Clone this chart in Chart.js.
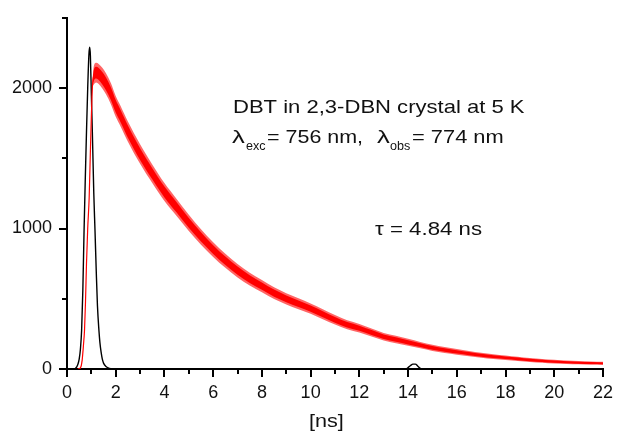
<!DOCTYPE html>
<html>
<head>
<meta charset="utf-8">
<script src="https://cdn.jsdelivr.net/npm/chart.js@4/dist/chart.umd.min.js"></script>
<style>
  html, body { margin: 0; padding: 0; background: #fff; }
  #c { display: block; }
</style>
</head>
<body>
<canvas id="c" width="618" height="432"></canvas>
<script>
// ---- data ----
const xTickLabels = ['0','2','4','6','8','10','12','14','16','18','20','22'];
const yTickLabels = ['0','1000','2000'];

// fluorescence decay (red), time in ns
const redTime = [0.45,0.55,0.62,0.68,0.72,0.76,0.80,0.85,0.91,0.96,1.00,1.04,1.10,1.20,1.30,1.45,1.6,1.8,2.0,2.2,
  2.5,3.0,3.5,4.0,4.5,5.0,5.5,6.0,6.5,7.0,7.5,8.0,8.5,9.0,9.5,10,10.5,11,11.5,12,
  12.5,13,13.5,14,14.5,15,15.5,16,16.5,17,17.5,18,18.5,19,19.5,20,20.5,21,21.5,22];
const redCounts = [0,8,60,180,280,480,750,1000,1220,1550,1800,2000,2090,2110,2100,2070,2030,1960,1870,1800,
  1690,1530,1390,1260,1150,1040,940,850,770,700,640,590,540,500,465,430,390,350,315,290,
  260,230,210,190,170,150,135,122,110,98,88,80,72,64,58,52,48,45,42,40];
// visible half-width of the noisy band (counts)
const redNoise = [0,2,3,3,3,3,3,3,3,3,3,15,65,70,72,74,75,75,74,73,
  72,69,66,64,61,58,55,52,50,48,46,44,42,40,39,37,36,34,32,31,
  29,27,26,25,23,22,21,20,19,18,17,16,15,14,14,13,12,12,12,11];

// instrument response (black)
const irfTime = [0,0.3,0.35,0.4,0.45,0.5,0.55,0.6,0.65,0.7,0.75,0.8,0.85,0.9,0.93,0.96,1.0,1.04,1.1,1.15,
  1.2,1.25,1.31,1.35,1.4,1.45,1.5,1.6,1.7,1.8,1.9,13.9,14.0,14.1,14.2,14.3,14.4,14.5,14.6,22];
const irfCounts = [0,0,5,15,35,70,140,276,560,982,1350,1689,2000,2240,2290,2230,1950,1689,1250,982,
  700,450,276,190,120,70,42,18,7,2,0,0,10,25,35,35,20,5,0,0];

const pts = (xs, ys) => xs.map((x, i) => ({ x: x, y: ys[i] }));
const band = (k) => redTime.map((x, i) => ({ x: x, y: redCounts[i] + k * redNoise[i] }));

const FONT = "'Liberation Sans', Arial, sans-serif";
const TXT = '#111';

function wideText(ctx, text, x, y, sx) {
  ctx.save();
  ctx.translate(x, y);
  ctx.scale(sx, 1);
  ctx.fillText(text, 0, 0);
  ctx.restore();
}

const minorTicks = {
  id: 'minorTicks',
  afterDraw(chart) {
    const ctx = chart.ctx, xs = chart.scales.x, ys = chart.scales.y;
    const a = chart.chartArea;
    ctx.save();
    ctx.strokeStyle = '#000';
    ctx.lineWidth = 2;
    for (let v = 1; v <= 21; v += 2) {
      const p = Math.round(xs.getPixelForValue(v));
      ctx.beginPath(); ctx.moveTo(p, a.bottom); ctx.lineTo(p, a.bottom + 5); ctx.stroke();
    }
    [500, 1500, 2500].forEach(v => {
      const p = Math.round(ys.getPixelForValue(v));
      ctx.beginPath(); ctx.moveTo(a.left - 5, p); ctx.lineTo(a.left, p); ctx.stroke();
    });
    // annotations
    ctx.fillStyle = TXT;
    ctx.textBaseline = 'alphabetic';
    ctx.textAlign = 'left';
    ctx.font = '19px ' + FONT;
    wideText(ctx, 'DBT in 2,3-DBN crystal at 5 K', 233, 113, 1.16);
    wideText(ctx, '\u03bb', 232, 143, 1.35);
    wideText(ctx, '= 756 nm,', 267, 143, 1.13);
    wideText(ctx, '\u03bb', 377, 143, 1.35);
    wideText(ctx, '= 774 nm', 412, 143, 1.15);
    wideText(ctx, '\u03c4 = 4.84 ns', 375, 235, 1.17);
    ctx.font = '12px ' + FONT;
    wideText(ctx, 'exc', 246, 150, 1.05);
    wideText(ctx, 'obs', 390, 150, 1.05);
    ctx.font = '18px ' + FONT;
    wideText(ctx, '[ns]', 309, 427, 1.2);
    ctx.restore();
  }
};

new Chart(document.getElementById('c'), {
  type: 'line',
  data: {
    datasets: [
      { data: band(1), borderWidth: 0, pointRadius: 0, fill: '+1', backgroundColor: 'rgba(255,0,0,0.6)', cubicInterpolationMode: 'monotone' },
      { data: band(-1), borderWidth: 0, pointRadius: 0, fill: false, cubicInterpolationMode: 'monotone' },
      { data: band(0.6), borderWidth: 0, pointRadius: 0, fill: '+1', backgroundColor: '#ff0000', cubicInterpolationMode: 'monotone' },
      { data: band(-0.6), borderWidth: 0, pointRadius: 0, fill: false, cubicInterpolationMode: 'monotone' },
      { data: pts(redTime, redCounts), borderColor: '#ff0000', borderWidth: 1.2, pointRadius: 0, fill: false, cubicInterpolationMode: 'monotone' },
      { data: pts(irfTime, irfCounts), borderColor: '#000', borderWidth: 1.4, pointRadius: 0, fill: false, cubicInterpolationMode: 'monotone' }
    ]
  },
  options: {
    responsive: false,
    animation: false,
    devicePixelRatio: 1,
    layout: { padding: { left: 0, right: 10, top: 15, bottom: 0 } },
    plugins: { legend: { display: false }, tooltip: { enabled: false } },
    scales: {
      x: {
        type: 'linear', min: 0, max: 22,
        afterBuildTicks: s => { s.ticks = xTickLabels.map(t => ({ value: Number(t) })); },
        afterFit: s => { s.height = 63; },
        grid: { drawOnChartArea: false, drawTicks: true, tickLength: 8, color: '#000', lineWidth: 2 },
        border: { display: true, color: '#000', width: 2 },
        ticks: { color: TXT, font: { family: FONT, size: 18 }, padding: 5, maxRotation: 0, autoSkip: false,
          callback: (v) => xTickLabels[xTickLabels.indexOf(String(v))] }
      },
      y: {
        type: 'linear', min: 0, max: 2500,
        afterBuildTicks: s => { s.ticks = yTickLabels.map(t => ({ value: Number(t) })); },
        afterFit: s => { s.width = 67; },
        grid: { drawOnChartArea: false, drawTicks: true, tickLength: 8, color: '#000', lineWidth: 2 },
        border: { display: true, color: '#000', width: 2 },
        ticks: { color: TXT, font: { family: FONT, size: 18 }, padding: 7, autoSkip: false,
          callback: (v) => yTickLabels[yTickLabels.indexOf(String(v))] }
      }
    }
  },
  plugins: [minorTicks]
});
</script>
</body>
</html>
